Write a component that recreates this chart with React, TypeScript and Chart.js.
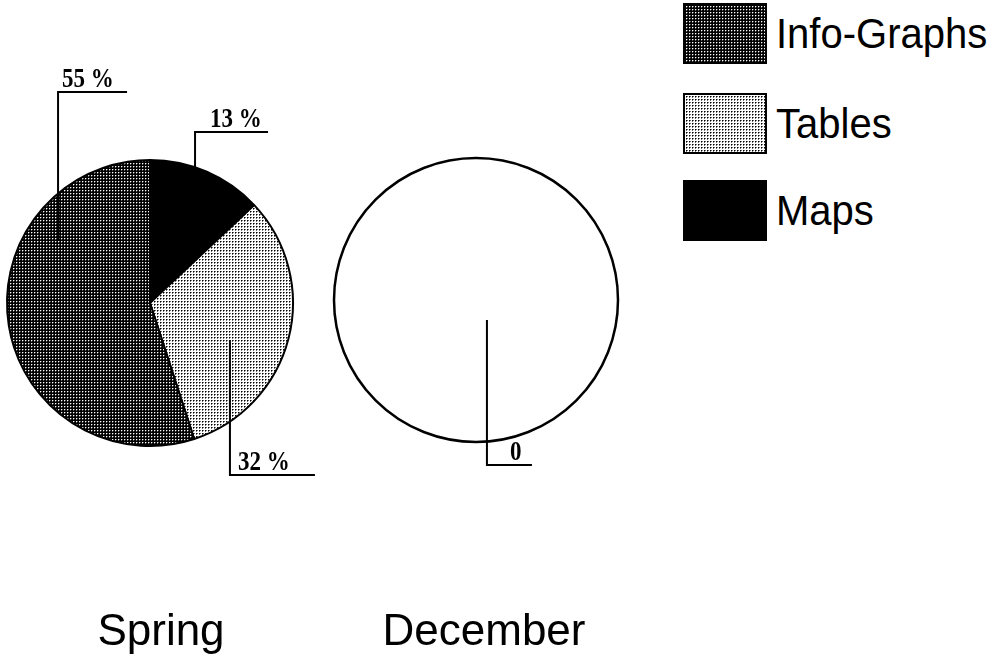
import React, { useEffect, useRef } from 'react';
import { Chart, registerables } from 'chart.js';

Chart.register(...registerables);

// ---------- data ----------
const categories = ['Info-Graphs', 'Tables', 'Maps'];
const springValues = [55, 32, 13];
const decemberValues = [0, 0, 0];
const pieTitles = ['Spring', 'December'];
// slices drawn clockwise from 12 o'clock: Maps, Tables, Info-Graphs
const clockwiseOrder = [2, 1, 0];

// ---------- textures ----------
type Tile = HTMLCanvasElement;
function makeTile(bg: string, dot: string, soft: string): Tile {
  const c = document.createElement('canvas');
  c.width = 3;
  c.height = 3;
  const g = c.getContext('2d')!;
  g.fillStyle = bg;
  g.fillRect(0, 0, 3, 3);
  g.fillStyle = soft;
  g.fillRect(2, 1, 1, 1);
  g.fillRect(1, 2, 1, 1);
  g.fillStyle = dot;
  g.fillRect(1, 1, 1, 1);
  return c;
}
let tilesCache: (Tile | null)[] | null = null;
function getTiles(): (Tile | null)[] {
  if (!tilesCache) {
    tilesCache = [
      makeTile('#000000', '#ffffff', '#5a5a5a'), // Info-Graphs (dark dots)
      makeTile('#ffffff', '#000000', '#707070'), // Tables (light dots)
      null, // Maps (solid black)
    ];
  }
  return tilesCache;
}

// ---------- leader-line layout (in units of pie radius) ----------
type Leader = { fx: number; fy: number; ey: number; len: number; tx: number };
const springLeaders: Leader[] = [
  { fx: -0.643, fy: -0.44, ey: -1.476, len: 69, tx: 4 }, // Info-Graphs
  { fx: 0.559, fy: 0.259, ey: 1.203, len: 85, tx: 8 }, // Tables
  { fx: 0.315, fy: -0.951, ey: -1.196, len: 73, tx: 15 }, // Maps
];
const decemberLeader: Leader = { fx: 0.077, fy: 0.141, ey: 1.162, len: 45, tx: 23 };

const leaderPlugin = {
  id: 'leaders',
  afterDatasetsDraw(chart: any, _args: any, opts: any) {
    const ctx: CanvasRenderingContext2D = chart.ctx;
    const meta = chart.getDatasetMeta(0);
    const arc0: any = meta.data[0];
    if (!arc0) return;
    const cx = arc0.x;
    const cy = arc0.y;
    const r = arc0.outerRadius;
    ctx.save();
    ctx.strokeStyle = '#000';
    ctx.fillStyle = '#000';
    if (opts.outline) {
      ctx.lineWidth = 2.5;
      ctx.beginPath();
      ctx.arc(cx, cy, r, 0, Math.PI * 2);
      ctx.stroke();
    }
    ctx.lineWidth = 2;
    (opts.items || []).forEach((it: Leader & { text: string }) => {
      const ax = cx + it.fx * r;
      const ay = cy + it.fy * r;
      const ey = cy + it.ey * r;
      ctx.beginPath();
      ctx.moveTo(ax, ay);
      ctx.lineTo(ax, ey);
      ctx.lineTo(ax + it.len, ey);
      ctx.stroke();
      ctx.save();
      ctx.translate(ax + it.tx, ey - 5);
      ctx.scale(1, 1.22);
      ctx.font = 'bold 23px "Liberation Serif", "Times New Roman", serif';
      ctx.textAlign = 'left';
      ctx.textBaseline = 'alphabetic';
      ctx.fillText(it.text, 0, 0);
      ctx.restore();
    });
    if (opts.title) {
      ctx.font = '44px "Liberation Sans", Arial, sans-serif';
      ctx.textAlign = 'center';
      ctx.textBaseline = 'alphabetic';
      ctx.fillText(opts.title, cx + opts.titleDx, chart.height - opts.titleBottom);
    }
    ctx.restore();
  },
};

type PieProps = {
  values: number[];
  left: number;
  width: number;
  height: number;
  padding: { left: number; right: number; top: number; bottom: number };
  radius: number;
  title: string;
  titleDx: number;
  empty: boolean;
};

function PieCanvas(p: PieProps) {
  const ref = useRef<HTMLCanvasElement | null>(null);
  useEffect(() => {
    const canvas = ref.current!;
    const ctx = canvas.getContext('2d')!;
    const tiles = getTiles();
    const fills = categories.map((_, i) => {
      const t = tiles[i];
      return t ? (ctx.createPattern(t, 'repeat') as CanvasPattern) : '#000000';
    });
    const total = p.values.reduce((a, b) => a + b, 0);
    const labels = clockwiseOrder.map((i) => categories[i]);
    const data = clockwiseOrder.map((i) => p.values[i]);
    const bg = clockwiseOrder.map((i) => fills[i]);
    let items: any[];
    if (total > 0) {
      items = clockwiseOrder.map((i) => ({
        ...springLeaders[i],
        text: `${Math.round((p.values[i] / total) * 100)} %`,
      }));
    } else {
      items = [{ ...decemberLeader, text: String(total) }];
    }
    const chart = new Chart(canvas, {
      type: 'pie',
      data: {
        labels,
        datasets: [
          {
            data,
            backgroundColor: bg as any,
            borderColor: '#000000',
            borderWidth: p.empty ? 0 : 2,
          },
        ],
      },
      options: {
        responsive: false,
        animation: false,
        radius: p.radius,
        rotation: 0,
        layout: { padding: p.padding },
        events: [],
        plugins: {
          legend: { display: false },
          tooltip: { enabled: false },
          title: { display: false },
          leaders: {
            outline: p.empty,
            items,
            title: p.title,
            titleDx: p.titleDx,
            titleBottom: 19,
          },
        } as any,
      } as any,
      plugins: [leaderPlugin],
    });
    return () => chart.destroy();
  }, []);
  return (
    <canvas
      ref={ref}
      width={p.width}
      height={p.height}
      style={{ position: 'absolute', left: p.left, top: 0, display: 'block' }}
    />
  );
}

function Legend() {
  const tiles = getTiles();
  const tops = [3, 93, 180];
  return (
    <>
      {categories.map((name, i) => {
        const t = tiles[i];
        return (
          <React.Fragment key={name}>
            <div
              style={{
                position: 'absolute',
                left: 683,
                top: tops[i],
                width: 84,
                height: 61,
                boxSizing: 'border-box',
                border: '2px solid #000',
                backgroundColor: '#000',
                backgroundImage: t ? `url(${t.toDataURL()})` : 'none',
                backgroundRepeat: 'repeat',
              }}
            />
            <div
              style={{
                position: 'absolute',
                left: 776,
                top: tops[i],
                height: 61,
                lineHeight: '61px',
                fontSize: 40,
                fontFamily: '"Liberation Sans", Arial, sans-serif',
                color: '#000',
                whiteSpace: 'nowrap',
                transform: 'scaleY(1.08)',
              }}
            >
              {name}
            </div>
          </React.Fragment>
        );
      })}
    </>
  );
}

export default function App() {
  return (
    <div
      style={{
        position: 'absolute',
        left: 0,
        top: 0,
        width: 995,
        height: 664,
        background: '#ffffff',
        overflow: 'hidden',
      }}
    >
      <PieCanvas
        values={springValues}
        left={0}
        width={330}
        height={664}
        padding={{ left: 0, right: 30, top: 160, bottom: 218 }}
        radius={143}
        title={pieTitles[0]}
        titleDx={11}
        empty={false}
      />
      <PieCanvas
        values={decemberValues}
        left={330}
        width={330}
        height={664}
        padding={{ left: 0, right: 38, top: 157, bottom: 221 }}
        radius={142}
        title={pieTitles[1]}
        titleDx={8}
        empty={true}
      />
      <Legend />
    </div>
  );
}
